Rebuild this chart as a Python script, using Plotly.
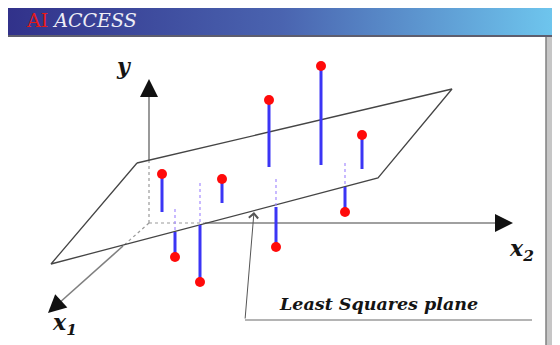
import plotly.graph_objects as go

# picture is drawn in its own pixel frame: x to the right, y downward
W, H = 560, 345
PAGE_MARGIN = 8  # the page body keeps its default 8px margin

# observed points (red dots)
point_x = [162, 175, 200, 222, 269, 276, 321, 362, 345]
point_y = [174, 257, 282, 179, 100, 247, 66, 135, 212]
# where each residual meets the fitted plane
foot_y = [212, 209, 183, 203, 167, 179, 165, 169, 163]
# points under the plane: where the residual leaves the front edge of the plane
edge_y = [None, 232, 225, None, None, 207, None, None, 187]

# corners of the least squares plane
plane_x = [137, 452, 378, 51, 137]
plane_y = [163, 89, 178, 264, 163]

# coordinate axes: hidden part (under the plane) and visible part
axis_origin = [149, 223]
y_axis_hidden = [160]
y_axis_tip = [149, 79]
x2_axis_hidden = [205]
x2_axis_tip = [513, 223]
x1_axis_hidden = [123, 246]
x1_axis_tip = [48, 313]

# callout for the plane
callout_tip = [254, 212]
callout_elbow = [245, 320]
callout_end = 532

header_colors = ["#31318a", "#4a64b0", "#6fc8ef"]

fig = go.Figure()

# header band with gradient
fig.add_trace(go.Scatter(
    x=[5, W, W, 5, 5], y=[4, 4, 35, 35, 4], mode="lines", fill="toself",
    line=dict(width=0), hoverinfo="skip",
    fillgradient=dict(type="horizontal",
                      colorscale=[[0, header_colors[0]], [0.5, header_colors[1]], [1, header_colors[2]]]),
))


def seg(xs, ys, color, width, dash="solid"):
    fig.add_trace(go.Scatter(x=xs, y=ys, mode="lines", hoverinfo="skip",
                             line=dict(color=color, width=width, dash=dash)))


ox, oy = axis_origin
axis_col = "#808080"
# hidden axis parts
seg([ox, ox], [oy, y_axis_hidden[0]], "#9a9a9a", 1.2, "dot")
seg([ox, x2_axis_hidden[0]], [oy, oy], "#9a9a9a", 1.2, "dot")
seg([ox, x1_axis_hidden[0]], [oy, x1_axis_hidden[1]], "#9a9a9a", 1.2, "dot")
# visible axis parts
seg([ox, ox], [y_axis_hidden[0], y_axis_tip[1] + 14], axis_col, 1.6)
seg([x2_axis_hidden[0], x2_axis_tip[0] - 14], [oy, oy], axis_col, 1.6)
seg([x1_axis_hidden[0], x1_axis_tip[0] + 10], [x1_axis_hidden[1], x1_axis_tip[1] - 9], axis_col, 1.6)

# plane outline
seg(plane_x, plane_y, "#454545", 1.3)

# residuals
blue_x, blue_y, dot_x, dot_y = [], [], [], []
for px, py, fy, ey in zip(point_x, point_y, foot_y, edge_y):
    if ey is None:
        blue_x += [px, px, None]
        blue_y += [py, fy, None]
    else:
        blue_x += [px, px, None]
        blue_y += [ey, py, None]
        dot_x += [px, px, None]
        dot_y += [fy, ey, None]
seg(dot_x, dot_y, "#a58cff", 1.2, "dot")
seg(blue_x, blue_y, "#3b35f5", 3)

fig.add_trace(go.Scatter(x=point_x, y=point_y, mode="markers", hoverinfo="skip",
                         marker=dict(color="#ff0a0a", size=10, line=dict(width=0))))

# callout line
seg([callout_elbow[0], callout_end], [callout_elbow[1], callout_elbow[1]], "#6a6a6a", 1.2)

arrows = [
    dict(x=y_axis_tip[0], y=y_axis_tip[1], ax=ox, ay=y_axis_tip[1] + 16),
    dict(x=x2_axis_tip[0], y=x2_axis_tip[1], ax=x2_axis_tip[0] - 16, ay=oy),
    dict(x=x1_axis_tip[0], y=x1_axis_tip[1], ax=x1_axis_tip[0] + 12, ay=x1_axis_tip[1] - 11),
]
for a in arrows:
    fig.add_annotation(xref="x", yref="y", axref="x", ayref="y", text="", showarrow=True,
                       arrowhead=2, arrowsize=1.8, arrowwidth=2, arrowcolor="#111", **a)
fig.add_annotation(xref="x", yref="y", axref="x", ayref="y", text="", showarrow=True,
                   x=callout_tip[0], y=callout_tip[1], ax=callout_elbow[0], ay=callout_elbow[1],
                   arrowhead=4, arrowsize=1.8, arrowwidth=1, arrowcolor="#555")

serif = "DejaVu Serif"
label_font = dict(family=serif, size=22, color="#141414", weight="bold", style="italic")
fig.add_annotation(x=24, y=20, xref="x", yref="y", xanchor="left", yanchor="middle", showarrow=False,
                   text="<span style='color:#e41a1a'>AI</span> <i>ACCESS</i>",
                   font=dict(family=serif, size=19, color="#eeeef6"))
fig.add_annotation(x=277, y=304, xref="x", yref="y", xanchor="left", yanchor="middle", showarrow=False,
                   text="Least Squares plane", font=dict(label_font, size=17.5))
fig.add_annotation(x=124, y=66, xref="x", yref="y", showarrow=False, text="y", font=label_font)
fig.add_annotation(x=50, y=324, xref="x", yref="y", xanchor="left", showarrow=False,
                   text="x<sub>1</sub>", font=label_font)
fig.add_annotation(x=507, y=250, xref="x", yref="y", xanchor="left", showarrow=False,
                   text="x<sub>2</sub>", font=label_font)

fig.update_layout(
    width=W - PAGE_MARGIN, height=H - PAGE_MARGIN, margin=dict(l=0, r=0, t=0, b=0),
    paper_bgcolor="white", plot_bgcolor="white", showlegend=False,
    font=dict(family=serif),
    xaxis=dict(range=[PAGE_MARGIN, W], visible=False, fixedrange=True),
    yaxis=dict(range=[H, PAGE_MARGIN], visible=False, fixedrange=True),
    shapes=[
        dict(type="line", xref="x", yref="y", x0=5, x1=W, y0=36, y1=36, line=dict(color="#5e5e6e", width=2)),
        dict(type="line", xref="x", yref="y", x0=5, x1=5, y0=36, y1=H, line=dict(color="#707070", width=1.5)),
        dict(type="rect", xref="x", yref="y", x0=546, x1=W, y0=37, y1=H,
             fillcolor="#c6c6c6", line=dict(width=0), layer="above"),
        dict(type="line", xref="x", yref="y", x0=546, x1=546, y0=37, y1=H, line=dict(color="#808080", width=1.5)),
    ],
)

fig.write_html("out.html")
